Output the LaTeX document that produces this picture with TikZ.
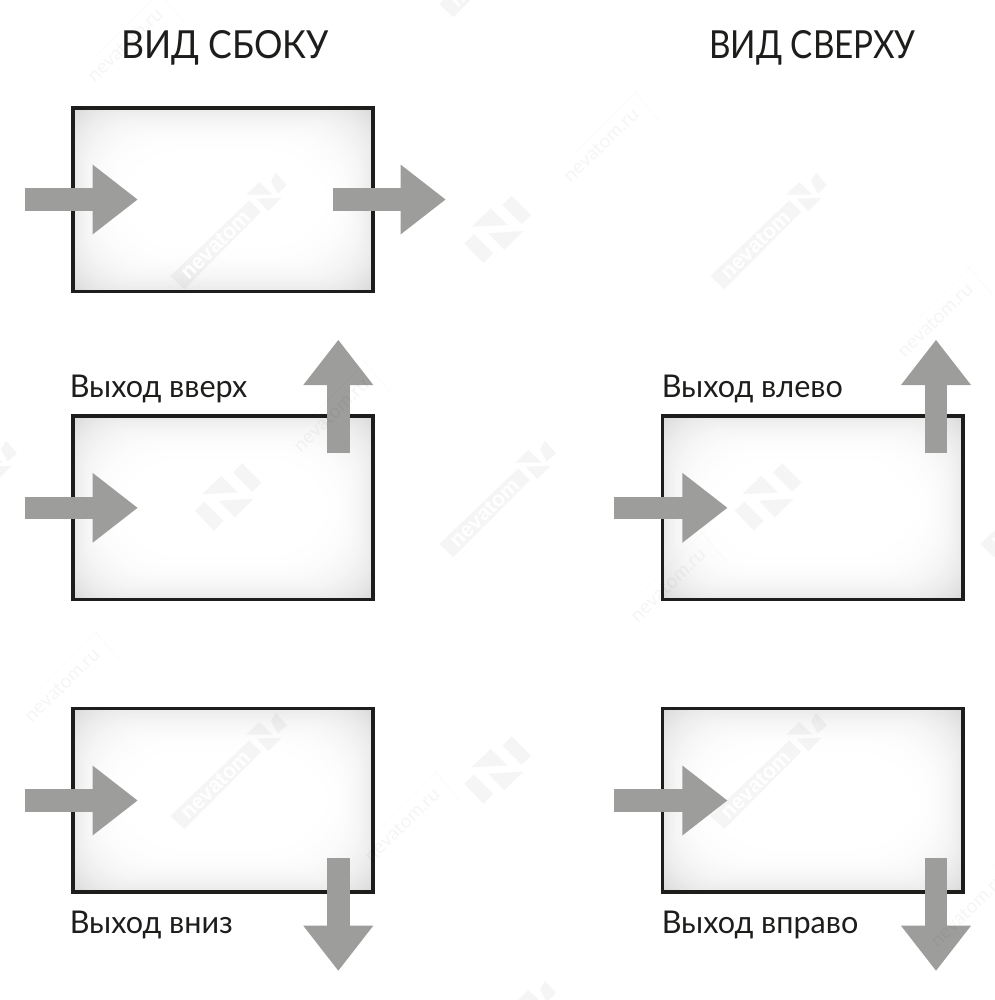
\documentclass[tikz,border=0pt]{standalone}
\usepackage{fontspec}
\setmainfont{Lato}
\newfontfamily\titlefont[FakeStretch=0.92]{Lato}
\newfontfamily\titlefontb[FakeStretch=0.86]{Lato}
\newfontfamily\labelfont[FakeStretch=0.975]{Lato}
\newfontfamily\wmbold{Liberation Sans Bold}
\usetikzlibrary{arrows.meta}
\definecolor{arrowgrey}{HTML}{9D9D9B}
\definecolor{framecol}{HTML}{1D1D1B}
\tikzset{
  x=0.75pt,y=-0.75pt,
  framebox/.style={draw=framecol,line width=2.6pt,inner sep=0pt,outer sep=0pt,minimum width=225.3pt,minimum height=137.6pt},
  flowarrow/.style={draw=arrowgrey,line width=16.8pt,-{Triangle[length=33.75pt,width=52.5pt,line width=0pt,fill=arrowgrey]}},
  flowshaft/.style={draw=arrowgrey,line width=16.8pt,shorten >=32pt},
  title/.style={anchor=base west,font=\titlefont\fontsize{29}{29}\selectfont,text=framecol,inner sep=0pt},
  titleb/.style={anchor=base west,font=\titlefontb\fontsize{29}{29}\selectfont,text=framecol,inner sep=0pt},
  sublabel/.style={anchor=base west,font=\labelfont\fontsize{23.5}{24}\selectfont,text=framecol,inner sep=0pt},
  wmfill/.style={fill=black,fill opacity=0.04,draw=none},
  wmtxt/.style={text=black,text opacity=0.04,rotate=44,inner sep=0pt,font=\fontsize{14.5}{15}\selectfont},
  wmline/.style={draw=black,draw opacity=0.025,line width=0.5pt},
}
% glow: nested rounded rectangles, clipped to the frame, so corners are darkest
\newcommand{\glowbox}[4]{%
  \begin{scope}
  \clip (#1,#2) rectangle (#3,#4);
  \foreach \i in {0,...,33}{%
    \pgfmathsetmacro{\lev}{15*(1-\i/34)*(1-\i/34)*(1-\i/34)}%
    \pgfmathsetmacro{\ins}{\i*2-12}%
    \pgfmathsetmacro{\rnd}{(40+\i)*0.75}%
    \fill[black!\lev!white,rounded corners=\rnd pt] (#1+\ins,#2+\ins) rectangle (#3-\ins,#4-\ins);
  }%
  \end{scope}
}
\newcommand{\wmlogo}[2]{%
  \begin{scope}[shift={(#1,#2)}]
    \fill[wmfill] (4.8,-24.5)--(14.2,-33.8)--(33.5,-14.5)--(24.2,-5.2)--cycle;
    \fill[wmfill] (-25.8,-2.8)--(-6.8,-21.2)--(10.2,-4.5)--cycle;
    \fill[wmfill] (-9.2,3.8)--(25.8,1.5)--(6.8,20.5)--cycle;
    \fill[wmfill] (-33.2,13.8)--(-23.5,4.5)--(-4.2,23.8)--(-14.2,33.8)--cycle;
  \end{scope}}
\newcommand{\wmband}[3]{%
  \begin{scope}[shift={(#1,#2)}]
    \fill[wmfill] (-97.7,86)--(-18.7,10.3)--(-7,22)--(-83.7,99.3)--cycle;
    \node[rotate=44,text=white,inner sep=0pt,font=\wmbold\fontsize{16}{17}\selectfont] (#3) at (-52.5,55) {nevatom};
    \fill[wmfill] (3,-8.7)--(8,-17.3)--(19,-4.7)--(9.7,3.7)--cycle;
    \fill[wmfill] (-22,4.7)--(-8.7,-8)--(4.7,4.7)--cycle;
    \fill[wmfill] (-11.3,8.7)--(13.7,7.7)--(0.3,21.3)--cycle;
  \end{scope}}
\newcommand{\wmsmall}[3]{%
  \node[wmtxt] (#3) at (#1,#2) {nevatom.ru};
  \draw[wmline] (#1-26,#2+8) -- (#1+37,#2-55);
  \draw[wmline] (#1+32,#2-55) -- (#1+59,#2-23);
}
\begin{document}
\begin{tikzpicture}
\useasboundingbox (0,0) rectangle (995,1000);
\fill[white] (0,0) rectangle (995,1000);

% box interiors
\glowbox{72.8}{107.8}{373.2}{291.2}
\glowbox{72.8}{415.8}{373.2}{600}
\glowbox{72.8}{708.5}{373.2}{892.3}
\glowbox{662.5}{415.8}{962.9}{600}
\glowbox{662.5}{708.5}{962.9}{892.3}

% frames
\node[framebox] (sideA) at (223,199.5) {};
\node[framebox] (sideB) at (223,507.9) {};
\node[framebox] (sideC) at (223,800.4) {};
\node[framebox] (topB) at (812.7,507.9) {};
\node[framebox] (topC) at (812.7,800.4) {};

% titles and labels
\node[title] (t1) at (121,58) {ВИД СБОКУ};
\node[titleb] (t2) at (709,58) {ВИД СВЕРХУ};
\node[sublabel] (l1) at (69.5,397) {Выход вверх};
\node[sublabel] (l2) at (661.5,397) {Выход влево};
\node[sublabel] (l3) at (69.5,933) {Выход вниз};
\node[sublabel] (l4) at (661.5,933) {Выход вправо};

% arrow ends
\coordinate (a1s) at (24.5,199.5);  \coordinate (a1e) at (137.5,199.5);
\coordinate (a2s) at (332.5,199.5); \coordinate (a2e) at (445.5,199.5);
\coordinate (a3s) at (24.5,507.8);  \coordinate (a3e) at (137.5,507.8);
\coordinate (a4s) at (338.3,453.3); \coordinate (a4e) at (338.3,340);
\coordinate (a5s) at (24.5,800.5);  \coordinate (a5e) at (137.5,800.5);
\coordinate (a6s) at (338.3,858.3); \coordinate (a6e) at (338.3,970.7);
\coordinate (a7s) at (614,507.8);   \coordinate (a7e) at (727.3,507.8);
\coordinate (a8s) at (936,453.3);   \coordinate (a8e) at (936,340);
\coordinate (a9s) at (614,800.5);   \coordinate (a9e) at (727.3,800.5);
\coordinate (a10s) at (936,858.3);  \coordinate (a10e) at (936,970.7);
\foreach \n in {1,...,10}{\draw[flowshaft] (a\n s) -- (a\n e); \draw[flowarrow] (a\n s) -- (a\n e);}

% watermark
\wmband{268}{190}{w1}\wmband{808}{190}{w2}\wmband{537}{458}{w3}
\wmband{-2}{458}{w4}\wmband{1078}{458}{w5}\wmband{268}{730}{w6}
\wmband{808}{730}{w7}\wmband{537}{998}{w8}\wmband{537}{-82}{w9}
\wmlogo{497.5}{229.5}\wmlogo{228}{497}\wmlogo{768}{497}\wmlogo{497.5}{770}
\wmsmall{125}{45}{s1}\wmsmall{601}{145}{s2}\wmsmall{935}{320}{s3}
\wmsmall{331}{415}{s4}\wmsmall{668}{585}{s5}\wmsmall{62}{685}{s6}
\wmsmall{402}{825}{s7}\wmsmall{968}{910}{s8}
\end{tikzpicture}
\end{document}
